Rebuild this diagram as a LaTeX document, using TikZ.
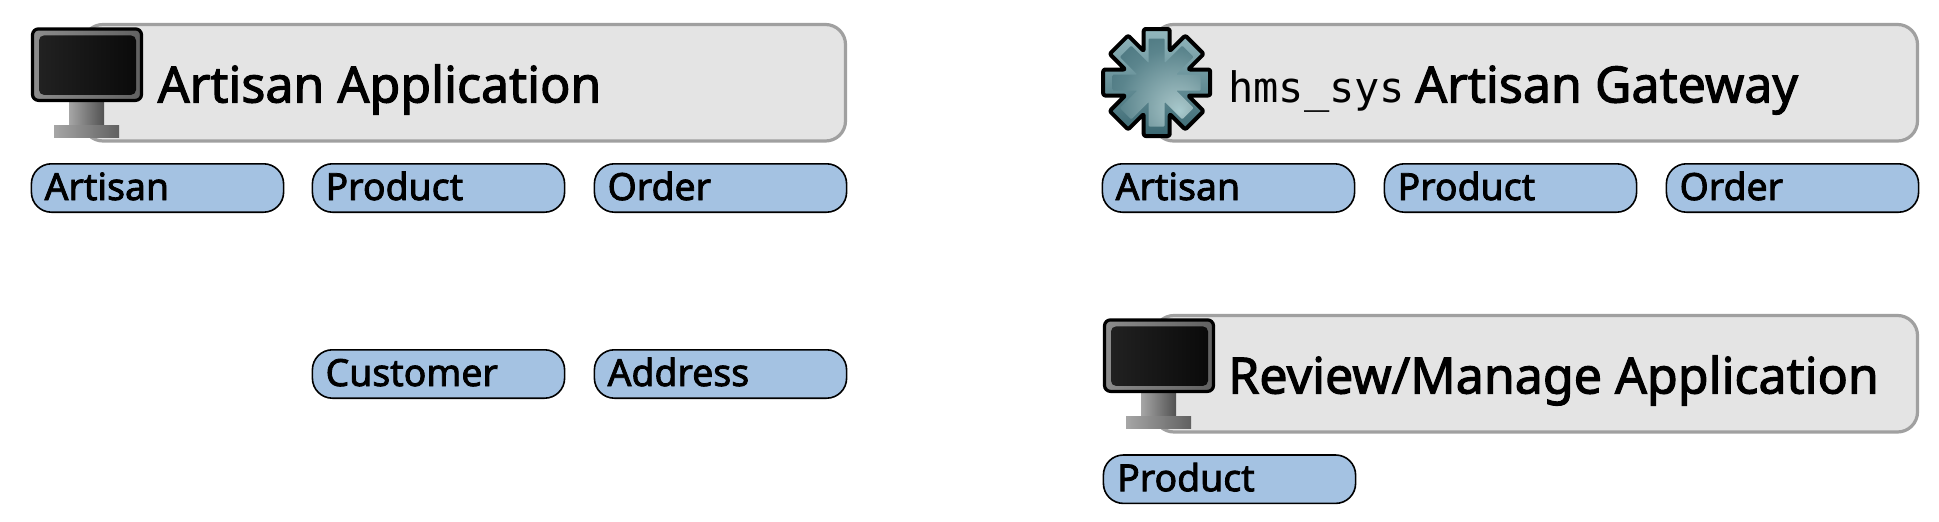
\documentclass[tikz,border=0pt]{standalone}
\usepackage{fontspec}
\setmainfont{Noto Sans}
\newfontfamily\labelfont[FakeBold=2.2]{Noto Sans}
\setmonofont{DejaVu Sans Mono}
\usetikzlibrary{calc}
\definecolor{panelfill}{HTML}{E4E4E4}
\definecolor{paneledge}{HTML}{A0A0A0}
\definecolor{pillfill}{HTML}{A4C2E2}
\definecolor{gearlight}{HTML}{A8CACE}
\definecolor{gearrimtop}{HTML}{93B8BE}
\definecolor{gearrimbot}{HTML}{3A6771}
\pgfdeclareradialshading{gearcore}{\pgfpoint{13bp}{-16bp}}{color(0bp)=(gearlight);color(6bp)=(gearlight!92!black);color(30bp)=(gearrimbot!70!gearlight);color(55bp)=(gearrimbot);color(100bp)=(gearrimbot)}
\tikzset{
  x=1pt,y=-1pt,
  pill/.style={draw=black,line width=1.6pt,fill=pillfill,rounded corners=20pt,minimum width=252.2pt,minimum height=48.4pt,inner sep=0pt,outer sep=0pt,anchor=north west},
  panel/.style={draw=paneledge,line width=3.2pt,fill=panelfill,rounded corners=20pt,inner sep=0pt,outer sep=0pt,anchor=north west,minimum height=116.5pt},
  pilltext/.style={anchor=base west,inner sep=0pt,font=\labelfont\fontsize{37.4}{37.4}\selectfont},
  titletext/.style={anchor=base west,inner sep=0pt,font=\labelfont\fontsize{50.1}{50.1}\selectfont}
}
\newcommand{\monitor}[2]{%
\begin{scope}[shift={(#1,#2)}]
  \shade[left color=black!35,right color=black!68] (38,74) rectangle (73,98);
  \shade[left color=black!35,right color=black!62] (23,98) rectangle (88,110);
  \draw[line width=3.2pt,rounded corners=6pt,left color=black!45,right color=black!62,draw=black] (1.5,1.5) rectangle (110.5,73);
  \shade[rounded corners=5pt,left color=black!87,right color=black!96] (8,8) rectangle (105,67.5);
\end{scope}}
\newcommand{\gearoutline}{(53.5,-13) -- (53.5,13) -- (31.4,13) -- (47,28.6) -- (28.6,47) -- (13,31.4) -- (13,53.5) -- (-13,53.5) -- (-13,31.4) -- (-28.6,47) -- (-47,28.6) -- (-31.4,13) -- (-53.5,13) -- (-53.5,-13) -- (-31.4,-13) -- (-47,-28.6) -- (-28.6,-47) -- (-13,-31.4) -- (-13,-53.5) -- (13,-53.5) -- (13,-31.4) -- (28.6,-47) -- (47,-28.6) -- (31.4,-13) -- cycle}
\newcommand{\gearcorepath}{(44,-8) -- (44,8) -- (19.3,8) -- (36.8,25.5) -- (25.5,36.8) -- (8,19.3) -- (8,44) -- (-8,44) -- (-8,19.3) -- (-25.5,36.8) -- (-36.8,25.5) -- (-19.3,8) -- (-44,8) -- (-44,-8) -- (-19.3,-8) -- (-36.8,-25.5) -- (-25.5,-36.8) -- (-8,-19.3) -- (-8,-44) -- (8,-44) -- (8,-19.3) -- (25.5,-36.8) -- (36.8,-25.5) -- (19.3,-8) -- cycle}
\begin{document}
\begin{tikzpicture}
\useasboundingbox (0,0) rectangle (1939,522);
% left
\node[panel,minimum width=762.5pt] (pa) at (83,24.5) {};
\monitor{31}{27.4}
\node[titletext] (ta) at (157.5,102.5) {Artisan Application};
\foreach \n/\x/\y/\t in {a/31.4/163.8/Artisan,b/312.4/163.8/Product,c/594.4/163.8/Order,d/312.4/349.8/Customer,e/594.4/349.8/Address}{
  \node[pill] (p\n) at (\x,\y) {};
  \node[pilltext] (l\n) at (\x+13,\y+36.2) {\t};
}
% right top
\node[panel,minimum width=764pt] (pb) at (1153.5,24.5) {};
\begin{scope}[shift={(1156.7,82.5)}]
  \shade[top color=gearrimtop,bottom color=gearrimbot,draw=black,line width=4pt,line join=round,rounded corners=2pt] \gearoutline;
  \shade[shading=gearcore,rounded corners=1pt] \gearcorepath;
\end{scope}
\node[anchor=base west,inner sep=0pt,font=\ttfamily\fontsize{42}{42}\selectfont] (tb) at (1228,102.5) {hms\_sys};
\node[titletext] (tc) at (1415,102.5) {Artisan Gateway};
\foreach \n/\x/\t in {f/1102.4/Artisan,g/1384.4/Product,h/1666.4/Order}{
  \node[pill] (p\n) at (\x,163.8) {};
  \node[pilltext] (l\n) at (\x+13,200) {\t};
}
% right bottom
\node[panel,minimum width=763.5pt] (pc) at (1154,315.5) {};
\monitor{1103}{318.4}
\node[titletext] (td) at (1228,393.5) {Review/Manage Application};
\node[pill] (pi) at (1103.4,455) {};
\node[pilltext] (li) at (1117,491.2) {Product};
\end{tikzpicture}
\end{document}
